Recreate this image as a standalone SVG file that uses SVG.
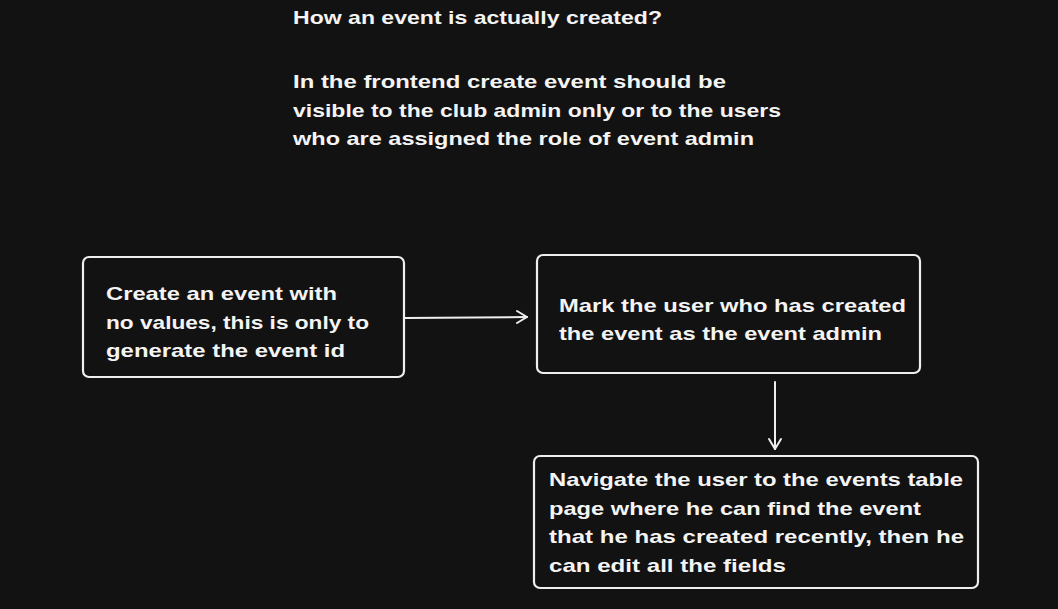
<svg xmlns="http://www.w3.org/2000/svg" width="1058" height="609" viewBox="0 0 1058 609">
<defs>
<style>
.t{font-family:"Liberation Sans","DejaVu Sans",sans-serif;font-size:19px;font-weight:bold;fill:#f4f4f4}
.box{fill:#121212;stroke:#eeeeee;stroke-width:2.2}
.ln{stroke:#eeeeee;stroke-width:2;fill:none;stroke-linecap:round;stroke-linejoin:round}
</style>
</defs>
<rect width="1058" height="609" fill="#121212"/>
<g id="header">
<text class="t" x="293" y="24" textLength="369" lengthAdjust="spacingAndGlyphs">How an event is actually created?</text>
<text class="t" x="293" y="88" textLength="433" lengthAdjust="spacingAndGlyphs">In the frontend create event should be</text>
<text class="t" x="293" y="117" textLength="488" lengthAdjust="spacingAndGlyphs">visible to the club admin only or to the users</text>
<text class="t" x="293" y="145" textLength="461" lengthAdjust="spacingAndGlyphs">who are assigned the role of event admin</text>
</g>
<g id="node-create">
<rect class="box" x="83" y="257" width="321" height="120" rx="6"/>
<text class="t" x="106" y="300" textLength="231" lengthAdjust="spacingAndGlyphs">Create an event with</text>
<text class="t" x="106" y="329" textLength="263" lengthAdjust="spacingAndGlyphs">no values, this is only to</text>
<text class="t" x="106" y="357" textLength="239" lengthAdjust="spacingAndGlyphs">generate the event id</text>
</g>
<g id="node-mark">
<rect class="box" x="537" y="255" width="383" height="118" rx="6"/>
<text class="t" x="559" y="312" textLength="347" lengthAdjust="spacingAndGlyphs">Mark the user who has created</text>
<text class="t" x="559" y="340" textLength="323" lengthAdjust="spacingAndGlyphs">the event as the event admin</text>
</g>
<g id="node-navigate">
<rect class="box" x="534" y="456" width="444" height="132" rx="6"/>
<text class="t" x="549" y="486" textLength="414" lengthAdjust="spacingAndGlyphs">Navigate the user to the events table</text>
<text class="t" x="549" y="515" textLength="372" lengthAdjust="spacingAndGlyphs">page where he can find the event</text>
<text class="t" x="549" y="543" textLength="415" lengthAdjust="spacingAndGlyphs">that he has created recently, then he</text>
<text class="t" x="549" y="572" textLength="237" lengthAdjust="spacingAndGlyphs">can edit all the fields</text>
</g>
<g id="connectors">
<path class="ln" d="M405 318 L527 317"/>
<path class="ln" d="M517 311 L527 317 L517 323"/>
<path class="ln" d="M775 382 L775 449"/>
<path class="ln" d="M769 439 L775 449 L781 439"/>
</g>
</svg>
